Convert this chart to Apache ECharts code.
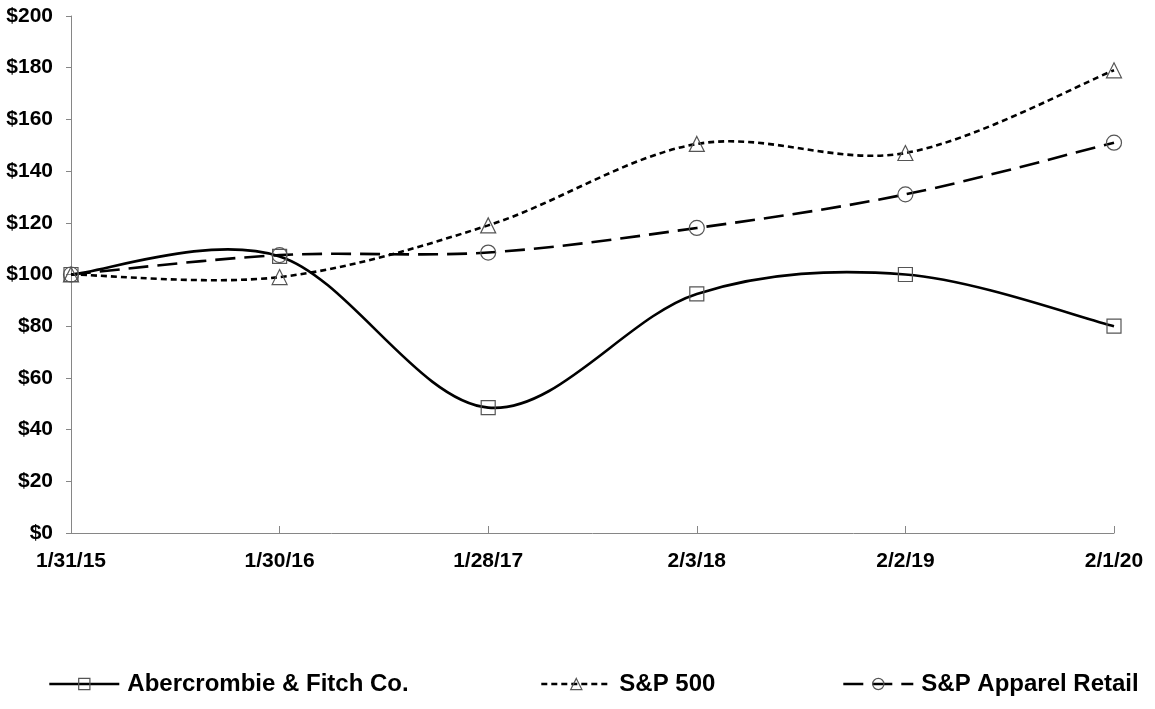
<!DOCTYPE html>
<html><head><meta charset="utf-8">
<script src="https://cdn.jsdelivr.net/npm/echarts@6/dist/echarts.min.js"></script>
<style>html,body{margin:0;padding:0;background:#fff}#c{width:1155px;height:709px}</style>
</head><body><div id="c"></div>
<script>
const categories = ['1/31/15','1/30/16','1/28/17','2/3/18','2/2/19','2/1/20'];
const abercrombie = [100, 107, 48.5, 92.5, 100, 80];
const sp500 = [100, 99, 119, 150.5, 147, 179];
const apparel = [100, 107.5, 108.5, 118, 131, 151];
const seriesNames = ['Abercrombie & Fitch Co.', 'S&P 500', 'S&P Apparel Retail'];

const chart = echarts.init(document.getElementById('c'));
const font = 'Liberation Sans, Arial, sans-serif';
const markerStyle = {color: 'rgba(255,255,255,0)', borderColor: '#555', borderWidth: 1.2};
const dashes = ['solid', [6, 4], [20, 9]];
const symbols = ['rect', 'triangle', 'circle'];
const datasets = [abercrombie, sp500, apparel];

// Excel-style smoothed curve (Catmull-Rom as cubic Bezier), drawn via the chart's own coordinate system
function smoothRenderer(values, dash) {
  return function (params, api) {
    const pts = values.map((v, i) => api.coord([i, v]));
    let d = 'M' + pts[0][0] + ' ' + pts[0][1];
    for (let i = 0; i < pts.length - 1; i++) {
      const p0 = pts[Math.max(i - 1, 0)], p1 = pts[i], p2 = pts[i + 1], p3 = pts[Math.min(i + 2, pts.length - 1)];
      const c1 = [p1[0] + (p2[0] - p0[0]) / 6, p1[1] + (p2[1] - p0[1]) / 6];
      const c2 = [p2[0] - (p3[0] - p1[0]) / 6, p2[1] - (p3[1] - p1[1]) / 6];
      d += ' C' + c1[0] + ' ' + c1[1] + ' ' + c2[0] + ' ' + c2[1] + ' ' + p2[0] + ' ' + p2[1];
    }
    return {type: 'path', shape: {pathData: d},
      style: {fill: 'none', stroke: '#000', lineWidth: 2.6, lineDash: dash === 'solid' ? null : dash}};
  };
}

function legend(i, left) {
  return {data: [{name: seriesNames[i], lineStyle: {opacity: 1, color: '#000', width: 2.6, type: dashes[i]},
      itemStyle: markerStyle}],
    left: left, top: 672, padding: 0, itemWidth: 70, itemHeight: 14, itemGap: 0,
    textStyle: {fontFamily: font, fontWeight: 'bold', fontSize: 24, color: '#000', padding: [0, 0, 0, 3]},
    selectedMode: false};
}

const series = [];
datasets.forEach((vals, i) => {
  series.push({type: 'custom', name: seriesNames[i] + ' curve', data: [0], renderItem: smoothRenderer(vals, dashes[i]),
    silent: true, z: 2});
});
datasets.forEach((vals, i) => {
  series.push({name: seriesNames[i], type: 'line', data: vals, smooth: false,
    symbol: symbols[i], symbolSize: i === 0 ? 14 : 15, itemStyle: markerStyle, z: 3,
    lineStyle: {color: '#000', width: 2.6, type: dashes[i], opacity: 0}});
});

chart.setOption({
  animation: false,
  grid: {left: 71, right: 41, top: 16, bottom: 176},
  legend: [legend(0, 48), legend(1, 540), legend(2, 842)],
  xAxis: {type: 'category', data: categories, boundaryGap: false,
    axisLine: {lineStyle: {color: '#868686', width: 1}},
    axisTick: {inside: true, length: 7, lineStyle: {color: '#868686'}},
    axisLabel: {fontFamily: font, fontWeight: 'bold', fontSize: 21, color: '#000', margin: 18}},
  yAxis: {type: 'value', min: 0, max: 200, interval: 20,
    axisLine: {show: true, lineStyle: {color: '#868686', width: 1}},
    axisTick: {show: true, length: 5, lineStyle: {color: '#868686'}},
    splitLine: {show: false},
    axisLabel: {fontFamily: font, fontWeight: 'bold', fontSize: 21, color: '#000', margin: 18,
      formatter: v => '$' + v}},
  series: series
});
</script></body></html>
